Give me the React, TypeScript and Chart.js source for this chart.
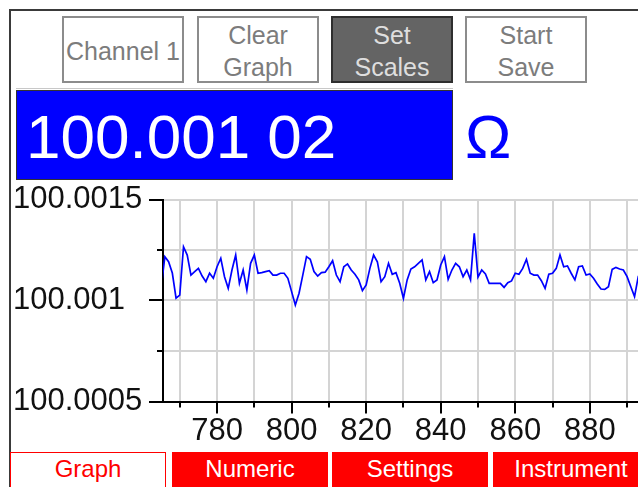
import React, { useEffect, useRef } from 'react';
import { Chart, registerables } from 'chart.js';

Chart.register(...registerables);

// ---- data ----
const sampleTimes = [
  765, 766, 767, 768, 769, 770, 771, 772, 773, 774, 775, 776, 777, 778, 779,
  780, 781, 782, 783, 784, 785, 786, 787, 788, 789, 790, 791, 792, 793, 794,
  795, 796, 797, 798, 799, 800, 801, 802, 803, 804, 805, 806, 807, 808, 809,
  810, 811, 812, 813, 814, 815, 816, 817, 818, 819, 820, 821, 822, 823, 824,
  825, 826, 827, 828, 829, 830, 831, 832, 833, 834, 835, 836, 837, 838, 839,
  840, 841, 842, 843, 844, 845, 846, 847, 848, 849, 850, 851, 852, 853, 854,
  855, 856, 857, 858, 859, 860, 861, 862, 863, 864, 865, 866, 867, 868, 869,
  870, 871, 872, 873, 874, 875, 876, 877, 878, 879, 880, 881, 882, 883, 884,
  885, 886, 887, 888, 889, 890, 891, 892, 893, 894,
];

const readings = [
  100.001062, 100.001217, 100.001192, 100.001136, 100.001012, 100.001027, 100.001266, 100.001225, 100.001126, 100.001143,
  100.001159, 100.001121, 100.001093, 100.001135, 100.00111, 100.001167, 100.001209, 100.001118, 100.00106, 100.001151,
  100.001225, 100.001085, 100.001151, 100.001052, 100.001184, 100.001225, 100.001135, 100.001138, 100.001143, 100.001148,
  100.001126, 100.001126, 100.001135, 100.001135, 100.00111, 100.001044, 100.000978, 100.001036, 100.001126, 100.001217,
  100.001204, 100.001143, 100.001121, 100.001138, 100.00114, 100.001167, 100.001197, 100.001126, 100.001093, 100.001167,
  100.001181, 100.001151, 100.00113, 100.001102, 100.001049, 100.001077, 100.001159, 100.001225, 100.001192, 100.001093,
  100.001118, 100.001184, 100.00113, 100.001138, 100.001085, 100.001011, 100.001102, 100.001156, 100.001167, 100.001184,
  100.001201, 100.001102, 100.001143, 100.001088, 100.001102, 100.001176, 100.001217, 100.001105, 100.001151, 100.001184,
  100.001167, 100.001118, 100.001151, 100.001102, 100.001333, 100.001116, 100.001151, 100.001131, 100.001085, 100.001085,
  100.001085, 100.001085, 100.001065, 100.001088, 100.001097, 100.001135, 100.00113, 100.001159, 100.001204, 100.001135,
  100.001126, 100.001126, 100.001098, 100.00106, 100.00113, 100.001135, 100.001159, 100.001225, 100.001167, 100.001171,
  100.001135, 100.001102, 100.001167, 100.001171, 100.001126, 100.001131, 100.00111, 100.001082, 100.001057, 100.001055,
  100.001068, 100.001154, 100.001164, 100.001156, 100.001151, 100.001118, 100.001068, 100.001019, 100.001118, 100.001151,
];

const xTickValues = [770, 780, 790, 800, 810, 820, 830, 840, 850, 860, 870, 880, 890];
const xTickLabels = ['', '780', '', '800', '', '820', '', '840', '', '860', '', '880', ''];
const yTickValues = [100.0005, 100.00075, 100.001, 100.00125, 100.0015];
const yTickLabels = ['100.0005', '', '100.001', '', '100.0015'];

const readoutText = '100.001 02';
const unitText = 'Ω';
const topButtons = [
  { lines: ['Channel 1'], active: false },
  { lines: ['Clear', 'Graph'], active: false },
  { lines: ['Set', 'Scales'], active: true },
  { lines: ['Start', 'Save'], active: false },
];
const tabs = ['Graph', 'Numeric', 'Settings', 'Instrument'];

const FONT = "'Liberation Sans', Arial, sans-serif";

export default function App() {
  const canvasRef = useRef<HTMLCanvasElement>(null);

  useEffect(() => {
    const canvas = canvasRef.current;
    if (!canvas) return;

    const tickPlugin = {
      id: 'customTicks',
      afterDraw(chart: any) {
        const { ctx, chartArea, scales } = chart;
        const xs = scales.x;
        const ys = scales.y;
        ctx.save();
        ctx.strokeStyle = '#000';
        ctx.lineWidth = 2;
        ctx.beginPath();
        yTickValues.forEach((v, i) => {
          const py = Math.round(ys.getPixelForValue(v));
          const len = yTickLabels[i] ? 14 : 6;
          ctx.moveTo(chartArea.left - len, py);
          ctx.lineTo(chartArea.left, py);
        });
        xTickValues.forEach((v, i) => {
          const px = Math.round(xs.getPixelForValue(v));
          const len = xTickLabels[i] ? 12 : 6;
          ctx.moveTo(px, chartArea.bottom);
          ctx.lineTo(px, chartArea.bottom + len);
        });
        ctx.stroke();
        ctx.restore();
      },
    };

    const points = sampleTimes.map((t, i) => ({ x: t, y: readings[i] }));

    const chart = new Chart(canvas, {
      type: 'line',
      data: {
        datasets: [
          {
            data: points,
            borderColor: '#0000ff',
            borderWidth: 1.7,
            pointRadius: 0,
            tension: 0,
            fill: false,
            clip: 0,
          } as any,
        ],
      },
      options: {
        animation: false,
        responsive: false,
        maintainAspectRatio: false,
        layout: { padding: { top: 17.5, left: 13, right: 0, bottom: 0 } },
        plugins: { legend: { display: false }, tooltip: { enabled: false } },
        scales: {
          x: {
            type: 'linear',
            min: 765.5,
            max: 894,
            afterBuildTicks: (s: any) => {
              s.ticks = xTickValues.map((v) => ({ value: v }));
            },
            afterFit: (s: any) => {
              s.height = 48.5;
              s.paddingLeft = 0;
              s.paddingRight = 0;
            },
            grid: { color: '#d4d4d4', lineWidth: 2, drawTicks: false },
            border: { color: '#000', width: 2 },
            ticks: {
              autoSkip: false,
              maxRotation: 0,
              minRotation: 0,
              padding: 11,
              color: '#111',
              font: { family: FONT, size: 31 },
              callback: (_v: any, i: number) => xTickLabels[i] ?? '',
            },
          },
          y: {
            type: 'linear',
            min: 100.0005,
            max: 100.0015,
            afterBuildTicks: (s: any) => {
              s.ticks = yTickValues.map((v) => ({ value: v }));
            },
            afterFit: (s: any) => {
              s.width = 150;
              s.paddingTop = 0;
              s.paddingBottom = 0;
            },
            grid: { color: '#d4d4d4', lineWidth: 2, drawTicks: false },
            border: { color: '#000', width: 2 },
            ticks: {
              autoSkip: false,
              crossAlign: 'far',
              padding: 16,
              color: '#111',
              font: { family: FONT, size: 31 },
              callback: (_v: any, i: number) => yTickLabels[i] ?? '',
            },
          },
        },
      } as any,
      plugins: [tickPlugin],
    });

    return () => {
      chart.destroy();
    };
  }, []);

  const btnLefts = [62, 197, 331, 465];
  const tabLefts = [10, 172, 332, 493];

  return (
    <div
      style={{
        position: 'fixed',
        left: 0,
        top: 0,
        width: 638,
        height: 487,
        overflow: 'hidden',
        background: '#fff',
        fontFamily: FONT,
      }}
    >
      {/* frame */}
      <div style={{ position: 'absolute', left: 9, top: 9, width: 640, height: 2, background: '#3a3a3a' }} />
      <div style={{ position: 'absolute', left: 9, top: 9, width: 2, height: 490, background: '#3a3a3a' }} />

      {/* top buttons */}
      {topButtons.map((b, i) => (
        <div
          key={i}
          style={{
            position: 'absolute',
            left: btnLefts[i],
            top: 16,
            width: 122,
            height: 67,
            boxSizing: 'border-box',
            border: b.active ? '2px solid #2e2e2e' : '2px solid #8c8c8c',
            background: b.active ? '#646464' : '#fff',
            color: b.active ? '#dedede' : '#7c7c7c',
            fontSize: 25,
            lineHeight: '32px',
            overflow: 'hidden',
            whiteSpace: 'nowrap',
            display: 'flex',
            flexDirection: 'column',
            alignItems: 'center',
            justifyContent: 'center',
            paddingTop: 2,
          }}
        >
          {b.lines.map((l, j) => (
            <div key={j}>{l}</div>
          ))}
        </div>
      ))}

      {/* divider under buttons */}
      <div style={{ position: 'absolute', left: 16, top: 88, width: 437, height: 1, background: '#c8c8c8' }} />

      {/* readout */}
      <div
        style={{
          position: 'absolute',
          left: 16,
          top: 90,
          width: 437,
          height: 90,
          boxSizing: 'border-box',
          border: '1px solid #333',
          background: '#0000ff',
        }}
      />
      <div
        style={{
          position: 'absolute',
          left: 26,
          top: 106,
          fontSize: 62,
          lineHeight: '62px',
          color: '#fff',
          whiteSpace: 'nowrap',
        }}
      >
        {readoutText}
      </div>
      <div
        style={{
          position: 'absolute',
          left: 465,
          top: 106,
          fontSize: 62,
          lineHeight: '62px',
          color: '#0000ff',
        }}
      >
        {unitText}
      </div>

      {/* chart */}
      <canvas
        ref={canvasRef}
        width={642}
        height={268}
        style={{ position: 'absolute', left: 0, top: 182, width: 642, height: 268 }}
      />

      {/* bottom tabs */}
      {tabs.map((t, i) => (
        <div
          key={t}
          style={{
            position: 'absolute',
            left: tabLefts[i],
            top: 452,
            width: 156,
            height: 40,
            boxSizing: 'border-box',
            border: i === 0 ? '1px solid #ff0000' : 'none',
            background: i === 0 ? '#fff' : '#ff0000',
            color: i === 0 ? '#ff0000' : '#fff',
            fontSize: 24,
            lineHeight: i === 0 ? '32px' : '34px',
            textAlign: 'center',
            whiteSpace: 'nowrap',
          }}
        >
          {t}
        </div>
      ))}
    </div>
  );
}
